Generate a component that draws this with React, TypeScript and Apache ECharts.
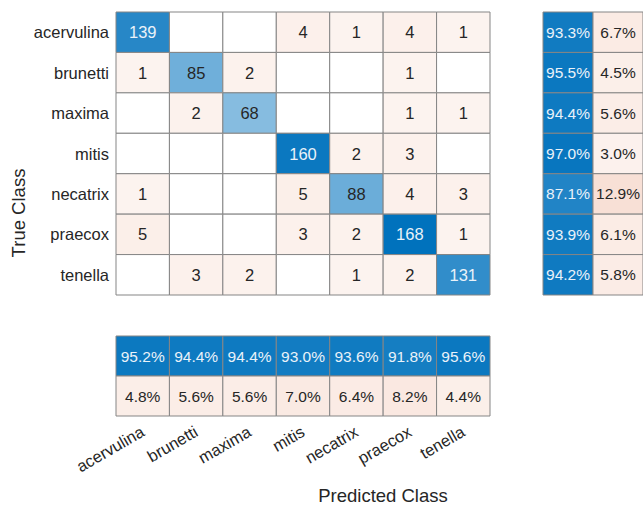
import React, { useEffect, useRef } from "react";
import * as echarts from "echarts";

const classes = ["acervulina", "brunetti", "maxima", "mitis", "necatrix", "praecox", "tenella"];
const confusion = [
  [139, 0, 0, 4, 1, 4, 1],
  [1, 85, 2, 0, 0, 1, 0],
  [0, 2, 68, 0, 0, 1, 1],
  [0, 0, 0, 160, 2, 3, 0],
  [1, 0, 0, 5, 88, 4, 3],
  [5, 0, 0, 3, 2, 168, 1],
  [0, 3, 2, 0, 1, 2, 131],
];
const rowCorrect = [93.3, 95.5, 94.4, 97.0, 87.1, 93.9, 94.2];
const rowWrong = [6.7, 4.5, 5.6, 3.0, 12.9, 6.1, 5.8];
const colCorrect = [95.2, 94.4, 94.4, 93.0, 93.6, 91.8, 95.6];
const colWrong = [4.8, 5.6, 5.6, 7.0, 6.4, 8.2, 4.4];
const summaryCols = ["correct", "incorrect"];

const FONT = "'Liberation Sans', Arial, Helvetica, sans-serif";
const BLUE = [0, 114, 189];
const ORANGE = [217, 83, 25];
const DARK = "#262626";
const LIGHT = "#eaf2f9";

function mix(c: number[], t: number): string {
  const tt = Math.max(0, Math.min(1, t));
  const r = Math.round(255 + (c[0] - 255) * tt);
  const g = Math.round(255 + (c[1] - 255) * tt);
  const b = Math.round(255 + (c[2] - 255) * tt);
  return `rgb(${r},${g},${b})`;
}

type Cell = { x: number; y: number; v: number; txt: string; fill: string; color: string };

export default function App() {
  const ref = useRef<HTMLDivElement>(null);
  useEffect(() => {
    if (!ref.current) return;
    const chart = echarts.init(ref.current, undefined, { renderer: "svg" });
    const maxVal = Math.max(...confusion.map((r) => Math.max(...r)));

    const mainCells: Cell[] = [];
    confusion.forEach((row, yi) => {
      row.forEach((v, xi) => {
        let fill = "#ffffff";
        let color = DARK;
        if (v > 0) {
          if (xi === yi) {
            const t = 0.12 + 0.88 * (v / maxVal);
            fill = mix(BLUE, t);
            color = t > 0.65 ? LIGHT : DARK;
          } else {
            fill = mix(ORANGE, 0.065 + v / maxVal);
          }
        }
        mainCells.push({ x: xi, y: yi, v, txt: v > 0 ? String(v) : "", fill, color });
      });
    });

    const rowCells: Cell[] = [];
    rowCorrect.forEach((p, yi) => {
      rowCells.push({ x: 0, y: yi, v: p, txt: p.toFixed(1) + "%", fill: mix(BLUE, p / 100), color: LIGHT });
      const w = rowWrong[yi];
      rowCells.push({ x: 1, y: yi, v: w, txt: w.toFixed(1) + "%", fill: mix(ORANGE, 0.05 + w / 100), color: DARK });
    });

    const colCells: Cell[] = [];
    colCorrect.forEach((p, xi) => {
      colCells.push({ x: xi, y: 0, v: p, txt: p.toFixed(1) + "%", fill: mix(BLUE, p / 100), color: LIGHT });
      const w = colWrong[xi];
      colCells.push({ x: xi, y: 1, v: w, txt: w.toFixed(1) + "%", fill: mix(ORANGE, 0.05 + w / 100), color: DARK });
    });

    const hidden = {
      axisLine: { show: false },
      axisTick: { show: false },
      splitLine: { show: false },
    };

    const cellSeries = (idx: number, cells: Cell[], fontSize: number) => ({
      type: "custom",
      xAxisIndex: idx,
      yAxisIndex: idx,
      encode: { x: 0, y: 1 },
      data: cells.map((c) => [c.x, c.y, c.v]),
      silent: true,
      renderItem: (params: any, api: any) => {
        const c = cells[params.dataIndex];
        const pt = api.coord([api.value(0), api.value(1)]);
        const sz = api.size([1, 1]);
        return {
          type: "rect",
          shape: { x: pt[0] - sz[0] / 2, y: pt[1] - sz[1] / 2, width: sz[0], height: sz[1] },
          style: { fill: c.fill, stroke: "#858585", lineWidth: 1 },
          textContent: {
            type: "text",
            style: {
              text: c.txt,
              fill: c.color,
              fontSize,
              fontFamily: FONT,
              align: "center",
              verticalAlign: "middle",
            },
          },
          textConfig: { position: "inside" },
        };
      },
    });

    chart.setOption({
      animation: false,
      backgroundColor: "#ffffff",
      textStyle: { fontFamily: FONT },
      grid: [
        { left: 116, top: 12, width: 374, height: 283 },
        { left: 543, top: 12, width: 106, height: 283 },
        { left: 116, top: 336, width: 374, height: 80 },
      ],
      xAxis: [
        { type: "category", gridIndex: 0, data: classes, axisLabel: { show: false }, ...hidden },
        { type: "category", gridIndex: 1, data: summaryCols, axisLabel: { show: false }, ...hidden },
        {
          type: "category",
          gridIndex: 2,
          data: classes,
          ...hidden,
          axisLabel: {
            rotate: 30,
            interval: 0,
            margin: 14,
            fontSize: 16.5,
            color: DARK,
            fontFamily: FONT,
          },
        },
      ],
      yAxis: [
        {
          type: "category",
          gridIndex: 0,
          data: classes,
          inverse: true,
          ...hidden,
          axisLabel: { fontSize: 16.5, color: DARK, margin: 7, fontFamily: FONT },
        },
        { type: "category", gridIndex: 1, data: classes, inverse: true, axisLabel: { show: false }, ...hidden },
        { type: "category", gridIndex: 2, data: summaryCols, inverse: true, axisLabel: { show: false }, ...hidden },
      ],
      graphic: [
        {
          type: "text",
          x: 18,
          y: 213,
          rotation: Math.PI / 2,
          style: {
            text: "True Class",
            fontSize: 18.5,
            fontFamily: FONT,
            fill: DARK,
            align: "center",
            verticalAlign: "middle",
          },
        },
        {
          type: "text",
          x: 383,
          y: 495,
          style: {
            text: "Predicted Class",
            fontSize: 18.5,
            fontFamily: FONT,
            fill: DARK,
            align: "center",
            verticalAlign: "middle",
          },
        },
      ],
      series: [cellSeries(0, mainCells, 16.5), cellSeries(1, rowCells, 15.5), cellSeries(2, colCells, 15.5)],
    });
    return () => chart.dispose();
  }, []);
  return (
    <div
      ref={ref}
      style={{ position: "absolute", left: 0, top: 0, width: 643, height: 505 }}
    />
  );
}
